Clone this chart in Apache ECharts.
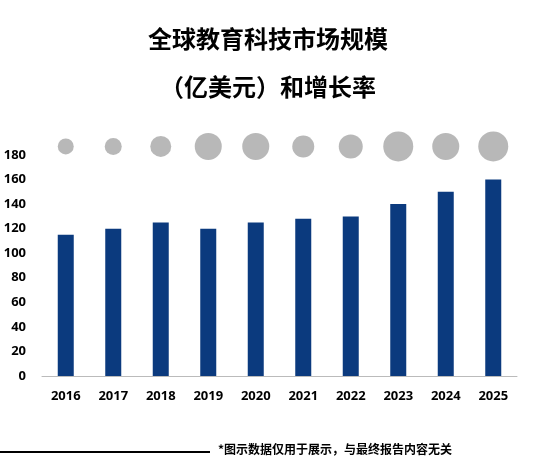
<!doctype html>
<html lang="zh">
<head>
<meta charset="UTF-8" />
<script src="https://fastly.jsdelivr.net/npm/echarts@6/dist/echarts.min.js"></script>
<style>
  * { margin: 0; padding: 0; }
  html, body, #main { width: 536px; height: 470px; overflow: hidden; background: #fff; }
</style>
</head>
<body>
<div id="main"></div>
<script>
const years = ['2016', '2017', '2018', '2019', '2020', '2021', '2022', '2023', '2024', '2025'];
const marketSize = [115, 120, 125, 120, 125, 128, 130, 140, 150, 160];
const growthRate = [3.2, 3.4, 4.2, 5.4, 5.4, 4.4, 4.8, 6.0, 5.4, 6.0];
const yTicks = [0, 20, 40, 60, 80, 100, 120, 140, 160, 180];

const chart = echarts.init(document.getElementById('main'));
chart.setOption({
  animation: false,
  title: {
    text: '全球教育科技市场规模\n（亿美元）和增长率',
    left: 'center',
    top: 10,
    textStyle: { fontFamily: 'Noto Sans CJK SC', fontSize: 24, fontWeight: 'bold', color: '#000', lineHeight: 48 }
  },
  graphic: [
    { type: 'line', shape: { x1: 0, y1: 452, x2: 210, y2: 452 }, style: { stroke: '#000', lineWidth: 2 } },
    { type: 'text', left: 218, top: 443, style: { text: '*图示数据仅用于展示，与最终报告内容无关', font: 'bold 12px "Noto Sans CJK SC"', fill: '#000' } }
  ],
  grid: { left: 42, right: 19, top: 155, bottom: 94 },
  xAxis: {
    type: 'category',
    data: years,
    axisTick: { show: false },
    axisLine: { lineStyle: { color: '#bbb' } },
    axisLabel: { color: '#000', fontWeight: 'bold', fontSize: 13, margin: 14, fontFamily: 'Noto Sans' }
  },
  yAxis: {
    type: 'value',
    min: 0, max: yTicks[yTicks.length - 1], interval: 20,
    splitLine: { show: false },
    axisLine: { show: false },
    axisTick: { show: false },
    axisLabel: { color: '#000', fontWeight: 'bold', fontSize: 13, fontFamily: 'Noto Sans', margin: 16 }
  },
  series: [
    {
      type: 'bar',
      data: marketSize,
      barWidth: 16,
      itemStyle: { color: '#0b3a7e' }
    },
    {
      type: 'scatter',
      data: growthRate.map(() => 187),
      clip: false,
      symbolSize: (v, p) => growthRate[p.dataIndex] * 5,
      itemStyle: { color: '#a6a6a6' }
    }
  ]
});
</script>
</body>
</html>
